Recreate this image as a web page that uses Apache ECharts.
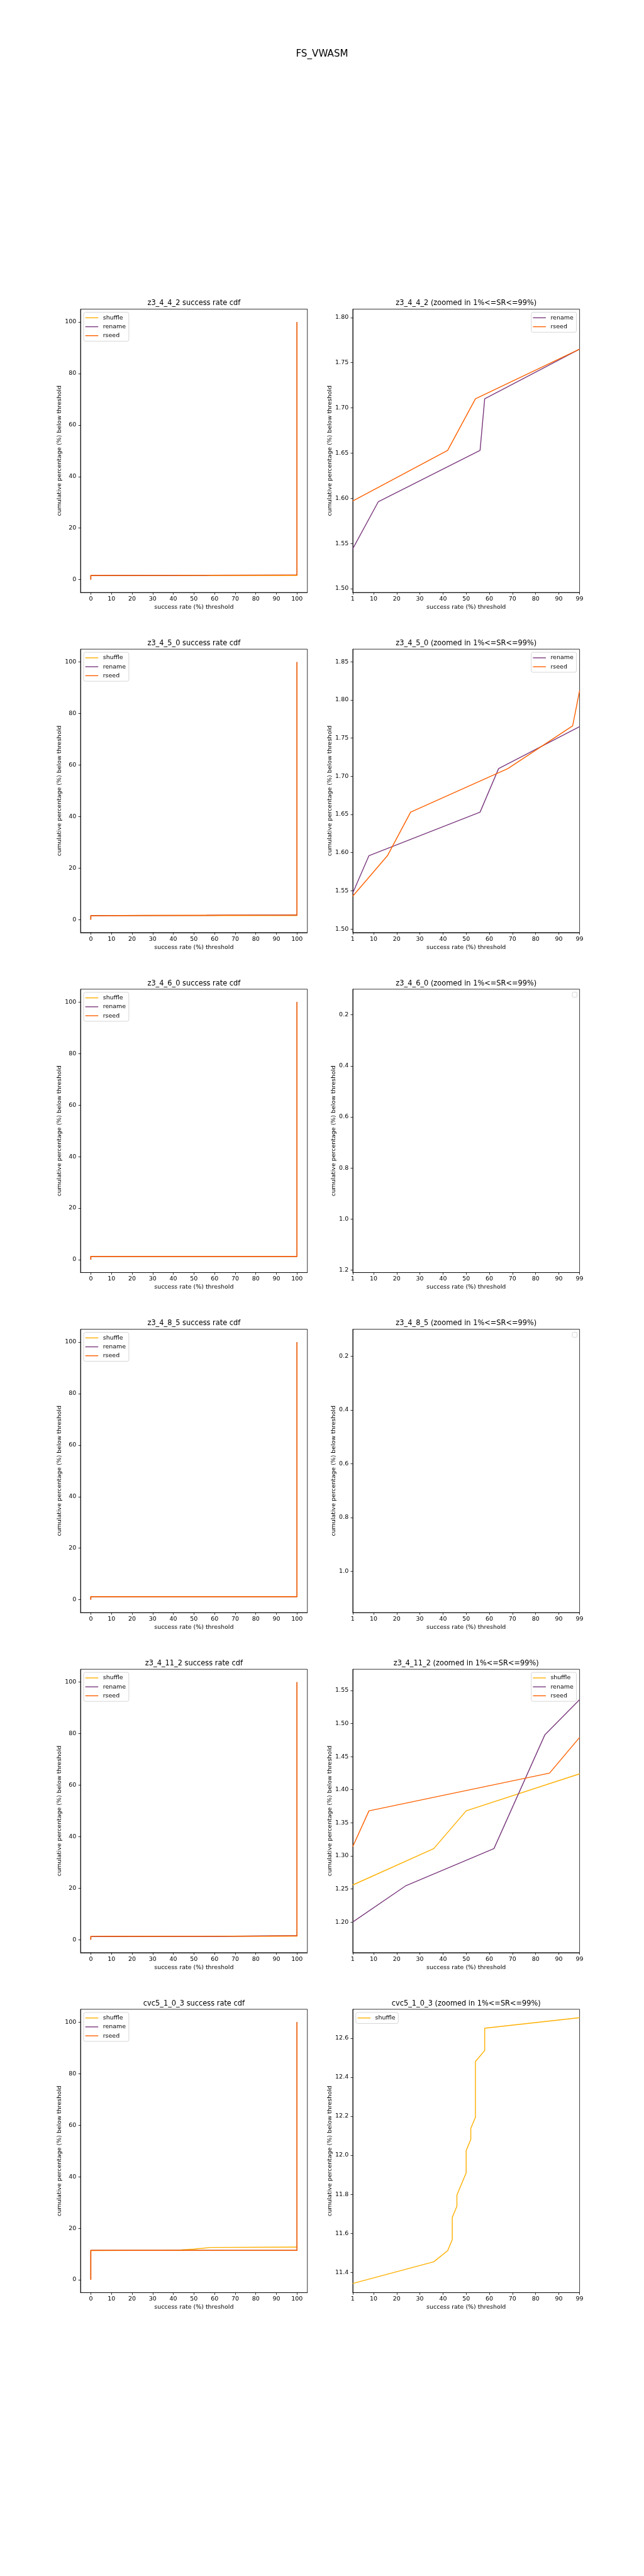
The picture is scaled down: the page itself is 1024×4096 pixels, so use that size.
<!DOCTYPE html>
<html><head><meta charset="utf-8">
<script src="https://cdn.jsdelivr.net/npm/echarts@6/dist/echarts.min.js"></script>
<style>html,body{margin:0;padding:0;background:#fff}#c{width:1024px;height:4096px}</style>
</head><body><div id="c"></div>
<script>
// ---------- data ----------
const figureTitle = 'FS_VWASM';
const benchmarks = ['z3_4_4_2', 'z3_4_5_0', 'z3_4_6_0', 'z3_4_8_5', 'z3_4_11_2', 'cvc5_1_0_3'];
const seriesNames = ['shuffle', 'rename', 'rseed'];
const seriesColors = ['#ffb000', '#7b3a7e', '#fe6100'];

// breakpoints [success-rate threshold %, cumulative % below threshold], inside 1..99
const z3_4_4_2_shuffle = [[1, 1.60], [99, 1.60]];
const z3_4_4_2_rename = [[1, 1.544], [12, 1.596], [56, 1.653], [58, 1.710], [99, 1.765]];
const z3_4_4_2_rseed = [[1, 1.597], [42, 1.653], [54, 1.710], [99, 1.765]];

const z3_4_5_0_shuffle = [[1, 1.60], [99, 1.60]];
const z3_4_5_0_rename = [[1, 1.547], [8, 1.596], [56, 1.653], [64, 1.710], [99, 1.765]];
const z3_4_5_0_rseed = [[1, 1.543], [16, 1.596], [26, 1.653], [68, 1.710], [96, 1.766], [99, 1.812]];

const z3_4_6_0_shuffle = [[1, 1.26], [99, 1.26]];
const z3_4_6_0_rename = [[1, 1.26], [99, 1.26]];
const z3_4_6_0_rseed = [[1, 1.26], [99, 1.26]];

const z3_4_8_5_shuffle = [[1, 1.20], [99, 1.20]];
const z3_4_8_5_rename = [[1, 1.20], [99, 1.20]];
const z3_4_8_5_rseed = [[1, 1.20], [99, 1.20]];

const z3_4_11_2_shuffle = [[1, 1.256], [36, 1.311], [50, 1.368], [99, 1.424]];
const z3_4_11_2_rename = [[1, 1.200], [24, 1.255], [62, 1.311], [84, 1.483], [99, 1.536]];
const z3_4_11_2_rseed = [[1, 1.314], [8, 1.368], [86, 1.425], [99, 1.479]];

const cvc5_1_0_3_shuffle = [[1, 11.343], [36, 11.454], [42, 11.511], [44, 11.568], [44, 11.682], [46, 11.739], [46, 11.796], [50, 11.910], [50, 12.024], [52, 12.081], [52, 12.138], [54, 12.195], [54, 12.480], [58, 12.537], [58, 12.651], [99, 12.705]];
const cvc5_1_0_3_rename = [[1, 11.40], [99, 11.40]];
const cvc5_1_0_3_rseed = [[1, 11.40], [99, 11.40]];

// axes
const cdfXTicks = [0, 10, 20, 30, 40, 50, 60, 70, 80, 90, 100];
const cdfYTicks = [0, 20, 40, 60, 80, 100];
const zoomXTicks = [1, 10, 20, 30, 40, 50, 60, 70, 80, 90, 99];
const zoomYMin = [1.4957, 1.4954, 0.0994, 0.099, 1.1538, 11.296];
const zoomYMax = [1.8093, 1.8664, 1.2097, 1.1545, 1.582, 12.748];
const zoomYInverse = [false, false, true, true, false, false];
const zoomYTicks1 = [1.50, 1.55, 1.60, 1.65, 1.70, 1.75, 1.80];
const zoomYTicks2 = [1.50, 1.55, 1.60, 1.65, 1.70, 1.75, 1.80, 1.85];
const zoomYTicks3 = [0.2, 0.4, 0.6, 0.8, 1.0, 1.2];
const zoomYTicks4 = [0.2, 0.4, 0.6, 0.8, 1.0];
const zoomYTicks5 = [1.20, 1.25, 1.30, 1.35, 1.40, 1.45, 1.50, 1.55];
const zoomYTicks6 = [11.4, 11.6, 11.8, 12.0, 12.2, 12.4, 12.6];
const zoomYDecimals = [2, 2, 1, 1, 2, 1];
const zoomLegendSide = ['right', 'right', 'right', 'right', 'right', 'left'];

// ---------- build ----------
const dataTable = {
  z3_4_4_2: [z3_4_4_2_shuffle, z3_4_4_2_rename, z3_4_4_2_rseed],
  z3_4_5_0: [z3_4_5_0_shuffle, z3_4_5_0_rename, z3_4_5_0_rseed],
  z3_4_6_0: [z3_4_6_0_shuffle, z3_4_6_0_rename, z3_4_6_0_rseed],
  z3_4_8_5: [z3_4_8_5_shuffle, z3_4_8_5_rename, z3_4_8_5_rseed],
  z3_4_11_2: [z3_4_11_2_shuffle, z3_4_11_2_rename, z3_4_11_2_rseed],
  cvc5_1_0_3: [cvc5_1_0_3_shuffle, cvc5_1_0_3_rename, cvc5_1_0_3_rseed]
};
const zoomYTicks = [zoomYTicks1, zoomYTicks2, zoomYTicks3, zoomYTicks4, zoomYTicks5, zoomYTicks6];

const W = 1024, S = W / 1500;
const FONT = 'DejaVu Sans';
const colLeft = [187.5 * S, 821.6 * S];
const gridW = 528.4 * S, gridH = 660 * S;
const rowTop = i => (720 + 792 * i) * S;
const tickFs = 13.9 * S, labFs = 13.9 * S, titleFs = 16.67 * S;
const lw = 2.08 * S;

const grids = [], xAxes = [], yAxes = [], series = [], legends = [], graphics = [];

graphics.push({type: 'text', x: W / 2, y: 126 * S, style: {text: figureTitle, fontSize: 22.2 * S, fontFamily: FONT, fill: '#000', align: 'center', verticalAlign: 'middle'}});

function axisCommon(ticks, fmt) {
  return {
    axisLine: {show: true, onZero: false, lineStyle: {color: '#000', width: 0.8}},
    axisTick: {show: true, inside: false, length: 3.4, lineStyle: {color: '#000', width: 0.8}, customValues: ticks},
    axisLabel: {show: true, color: '#000', fontSize: tickFs, fontFamily: FONT, customValues: ticks, formatter: fmt},
    splitLine: {show: false}
  };
}

benchmarks.forEach((b, i) => {
  const top = rowTop(i);
  const curves = dataTable[b];
  for (let c = 0; c < 2; c++) {
    const gi = grids.length;
    const left = colLeft[c];
    grids.push({left: left, top: top, width: gridW, height: gridH, show: true, borderColor: '#000', borderWidth: 0.8, backgroundColor: 'transparent'});
    const title = c === 0 ? b + ' success rate cdf' : b + ' (zoomed in 1%<=SR<=99%)';
    graphics.push({type: 'text', x: left + gridW / 2, y: top - 3.6, style: {text: title, fontSize: titleFs, fontFamily: FONT, fill: '#000', align: 'center', verticalAlign: 'bottom'}});

    const xa = Object.assign({gridIndex: gi, type: 'value'}, axisCommon(c === 0 ? cdfXTicks : zoomXTicks, v => String(v)));
    xa.min = c === 0 ? -5 : 1; xa.max = c === 0 ? 105 : 99;
    xa.axisLabel.margin = 5.8;
    xa.name = 'success rate (%) threshold'; xa.nameLocation = 'middle'; xa.nameGap = 19;
    xa.nameTextStyle = {fontSize: labFs, fontFamily: FONT, color: '#000'};
    xAxes.push(xa);

    const dec = zoomYDecimals[i];
    const ya = Object.assign({gridIndex: gi, type: 'value'}, axisCommon(c === 0 ? cdfYTicks : zoomYTicks[i], c === 0 ? (v => String(v)) : (v => v.toFixed(dec))));
    if (c === 0) { ya.min = -5; ya.max = 105; }
    else { ya.min = zoomYMin[i]; ya.max = zoomYMax[i]; ya.inverse = zoomYInverse[i]; }
    ya.axisLabel.margin = 6.7;
    ya.name = 'cumulative percentage (%) below threshold'; ya.nameLocation = 'middle';
    ya.nameGap = c === 0 ? 29 : (dec === 2 || i === 5 ? 32 : 26);
    ya.nameTextStyle = {fontSize: labFs, fontFamily: FONT, color: '#000'};
    yAxes.push(ya);

    const shown = [];
    curves.forEach((pts, k) => {
      let data;
      if (c === 0) {
        data = [[0, 0], [0, pts[0][1]]].concat(pts, [[100, pts[pts.length - 1][1]], [100, 100]]);
      } else {
        const ys = pts.map(p => p[1]);
        if (Math.max.apply(null, ys) === Math.min.apply(null, ys)) return; // flat inside window: not drawn
        data = pts;
      }
      shown.push(seriesNames[k]);
      series.push({type: 'line', name: seriesNames[k], xAxisIndex: gi, yAxisIndex: gi, data: data,
        showSymbol: false, symbol: 'none', clip: true, silent: true, animation: false,
        lineStyle: {color: seriesColors[k], width: lw}, itemStyle: {color: seriesColors[k]}, z: 2 + k});
    });

    const side = c === 0 ? 'left' : zoomLegendSide[i];
    const inset = 5;
    if (shown.length) {
      const lg = {show: true, orient: 'vertical', data: shown, top: top + inset, icon: 'rect', itemWidth: 20.5, itemHeight: 1.4, itemGap: 3.2,
        selectedMode: false, borderColor: '#cccccc', borderWidth: 0.8, borderRadius: 2.7, backgroundColor: 'rgba(255,255,255,0.8)',
        padding: [3.3, 4.8, 3.3, 2.7],
        textStyle: {fontSize: tickFs, fontFamily: FONT, color: '#000', lineHeight: 11, padding: [0, 0, 0, 2.5]}};
      if (side === 'left') lg.left = left + inset; else lg.right = W - (left + gridW) + inset;
      legends.push(lg);
    } else {
      graphics.push({type: 'rect', x: left + gridW - 4.1 - 7.5, y: top + 4.8, shape: {width: 7.5, height: 8, r: 1.5},
        style: {fill: 'rgba(255,255,255,0.8)', stroke: '#cccccc', lineWidth: 0.8}});
    }
  }
});

const chart = echarts.init(document.getElementById('c'), null, {renderer: 'canvas', width: 1024, height: 4096});
chart.setOption({
  backgroundColor: '#ffffff',
  animation: false,
  grid: grids, xAxis: xAxes, yAxis: yAxes, series: series, legend: legends, graphic: graphics
});
</script></body></html>
